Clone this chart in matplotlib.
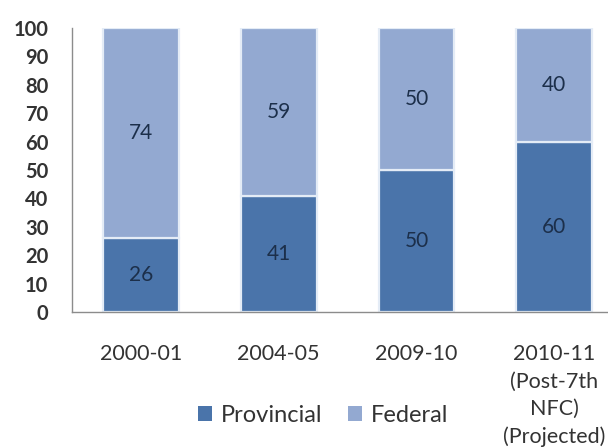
import numpy as np
import matplotlib.pyplot as plt
from matplotlib.patches import Patch

# revenue share by period (%)
periods = ["2000-01", "2004-05", "2009-10", "2010-11\n(Post-7th\nNFC)\n(Projected)"]
provincial = [26, 41, 50, 60]
federal = [74, 59, 50, 40]

plt.rcParams['font.family'] = ['Lato', 'DejaVu Sans']

col_prov = '#4a74aa'
col_fed = '#93a9d1'
edge = '#e4ecf6'
txt = '#333333'
lbl = '#1c2f4a'

fig = plt.figure(figsize=(6.08, 4.47), dpi=100, facecolor='white')
ax = fig.add_axes([72 / 608, 135 / 447, 536 / 608, 284 / 447])

x = np.arange(len(periods))
w = 0.55
ax.bar(x, provincial, width=w, color=col_prov, edgecolor=edge, linewidth=1.6)
ax.bar(x, federal, width=w, bottom=provincial, color=col_fed, edgecolor=edge, linewidth=1.6)

for xi, p, f in zip(x, provincial, federal):
    ax.text(xi, p / 2, f"{p}", ha='center', va='center', fontsize=15, color=lbl)
    ax.text(xi, p + f / 2, f"{f}", ha='center', va='center', fontsize=15, color=lbl)

ax.set_xlim(-0.5, 3.39)
ax.set_ylim(0, 100)
ax.set_yticks(range(0, 101, 10))
ax.set_xticks(x)
ax.set_xticklabels(periods, fontsize=15.5, color=txt, linespacing=1.47)
ax.tick_params(axis='x', length=0, pad=23)
ax.tick_params(axis='y', length=0, pad=17, labelsize=14.5, labelcolor=txt)
for t in ax.get_yticklabels():
    t.set_fontweight('bold')

for s in ['top', 'right']:
    ax.spines[s].set_visible(False)
for s in ['left', 'bottom']:
    ax.spines[s].set_color('#8c8c8c')
    ax.spines[s].set_linewidth(1.0)

handles = [Patch(facecolor=col_prov, edgecolor='none'), Patch(facecolor=col_fed, edgecolor='none')]
fig.legend(handles, ['Provincial', 'Federal'], loc='center',
           bbox_to_anchor=(323 / 608, 1 - 415 / 447), ncol=2, frameon=False,
           fontsize=17, labelcolor=txt, handlelength=0.6, handleheight=0.6,
           handletextpad=0.35, columnspacing=1.1)

fig.savefig('out.png', dpi=100, facecolor='white')
